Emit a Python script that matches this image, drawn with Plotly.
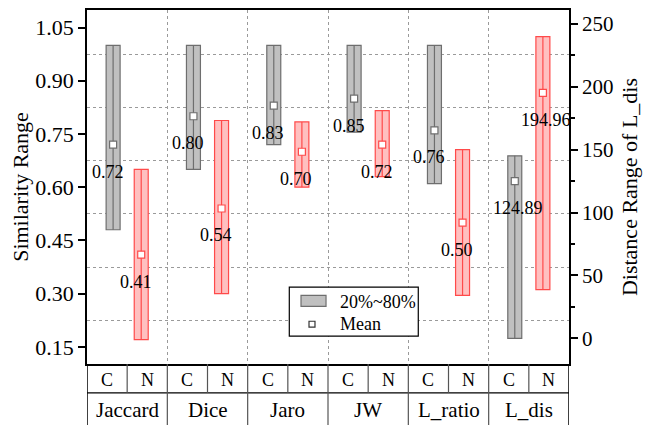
import plotly.graph_objects as go

# ---------------- data ----------------
groups = ["Jaccard", "Dice", "Jaro", "JW", "L_ratio", "L_dis"]
sub_labels = ["C", "N"]

# similarity measures (left axis), 20%~80% range and mean
sim_c_low = [0.48, 0.65, 0.72, 0.755, 0.61]
sim_c_high = [1.00, 1.00, 1.00, 1.00, 1.00]
sim_c_mean = [0.72, 0.80, 0.83, 0.85, 0.76]
sim_n_low = [0.17, 0.30, 0.60, 0.63, 0.295]
sim_n_high = [0.65, 0.788, 0.784, 0.816, 0.706]
sim_n_mean = [0.41, 0.54, 0.70, 0.72, 0.50]

# L_dis (right axis)
dis_c_low = [0.0]
dis_c_high = [145.0]
dis_c_mean = [124.89]
dis_n_low = [38.7]
dis_n_high = [239.7]
dis_n_mean = [194.96]

left_ticks = [0.15, 0.30, 0.45, 0.60, 0.75, 0.90, 1.05]
left_minor = [0.225, 0.375, 0.525, 0.675, 0.825, 0.975]
right_ticks = [0, 50, 100, 150, 200, 250]
right_minor = [25, 75, 125, 175, 225]
legend_labels = ["20%~80%", "Mean"]

# ---------------- style ----------------
FONT = "Liberation Serif, Times New Roman, serif"
GRAY_FILL = "#c0c0c0"
GRAY_LINE = "#6e6e6e"
RED_FILL = "#ffc0c0"
RED_LINE = "#ff4a4a"
GRID = "#9a9a9a"
OFF = 0.175
BW = 0.174

n_sim = len(sim_c_mean)
x_c_sim = [i - OFF for i in range(n_sim)]
x_n_sim = [i + OFF for i in range(n_sim)]
x_c_dis = [n_sim - OFF]
x_n_dis = [n_sim + OFF]

fig = go.Figure()


def add_bars(xs, lows, highs, fill, line, yaxis):
    fig.add_trace(go.Bar(
        x=xs, y=[h - l for h, l in zip(highs, lows)], base=lows,
        width=BW, yaxis=yaxis, showlegend=False,
        marker=dict(color=fill, line=dict(color=line, width=1.2)),
        hoverinfo="skip"))
    lx, ly = [], []
    for x, l, h in zip(xs, lows, highs):
        lx += [x, x, None]
        ly += [l, h, None]
    fig.add_trace(go.Scatter(x=lx, y=ly, mode="lines", yaxis=yaxis,
                             line=dict(color=line, width=1.2),
                             showlegend=False, hoverinfo="skip"))


def add_means(xs, means, line, yaxis):
    fig.add_trace(go.Scatter(
        x=xs, y=means, mode="markers", yaxis=yaxis, showlegend=False,
        marker=dict(symbol="square", size=7, color="white",
                    line=dict(color=line, width=1.2))))


add_bars(x_c_sim, sim_c_low, sim_c_high, GRAY_FILL, GRAY_LINE, "y")
add_bars(x_n_sim, sim_n_low, sim_n_high, RED_FILL, RED_LINE, "y")
add_bars(x_c_dis, dis_c_low, dis_c_high, GRAY_FILL, GRAY_LINE, "y2")
add_bars(x_n_dis, dis_n_low, dis_n_high, RED_FILL, RED_LINE, "y2")
add_means(x_c_sim, sim_c_mean, GRAY_LINE, "y")
add_means(x_n_sim, sim_n_mean, RED_LINE, "y")
add_means(x_c_dis, dis_c_mean, GRAY_LINE, "y2")
add_means(x_n_dis, dis_n_mean, RED_LINE, "y2")

annotations = []


def mean_labels(xs, means, yref):
    for x, m in zip(xs, means):
        annotations.append(dict(
            x=x, y=m, xref="x", yref=yref, text=f"{m:.2f}",
            showarrow=False, xanchor="left", yanchor="middle",
            xshift=-23.5, yshift=-27,
            font=dict(family=FONT, size=18, color="black")))


mean_labels(x_c_sim, sim_c_mean, "y")
mean_labels(x_n_sim, sim_n_mean, "y")
mean_labels(x_c_dis, dis_c_mean, "y2")
mean_labels(x_n_dis, dis_n_mean, "y2")

# table below the plot (the page body adds an 8px offset, figure sized to fit)
ROW1 = -0.0815
ROW_BOTTOM = -0.175
for i, g in enumerate(groups):
    for j, s in enumerate(sub_labels):
        annotations.append(dict(
            x=i - 0.25 + 0.5 * j, y=-0.0449, xref="x", yref="paper",
            text=s, showarrow=False, xanchor="center", yanchor="middle",
            borderpad=0,
            font=dict(family=FONT, size=18, color="black")))
    annotations.append(dict(
        x=i, y=-0.1292, xref="x", yref="paper", text=g, showarrow=False,
        xanchor="center", yanchor="middle", borderpad=0,
        font=dict(family=FONT, size=21, color="black")))

shapes = [
    dict(type="line", xref="x", yref="paper", x0=-0.5, x1=len(groups) - 0.5,
         y0=ROW1, y1=ROW1, line=dict(color="black", width=1.2)),
    dict(type="line", xref="x", yref="paper", x0=-0.5, x1=-0.5,
         y0=0, y1=ROW_BOTTOM, line=dict(color="black", width=1.5)),
    dict(type="line", xref="x", yref="paper", x0=len(groups) - 0.5,
         x1=len(groups) - 0.5, y0=0, y1=ROW_BOTTOM,
         line=dict(color="black", width=1.5)),
]
for i in range(len(groups)):
    shapes.append(dict(type="line", xref="x", yref="paper", x0=i, x1=i,
                       y0=0, y1=ROW1, line=dict(color="#555555", width=1.2)))
for i in range(len(groups) - 1):
    shapes.append(dict(type="line", xref="x", yref="paper", x0=i + 0.5,
                       x1=i + 0.5, y0=0, y1=ROW_BOTTOM,
                       line=dict(color="#555555", width=1.2)))

# custom legend box (paper coordinates)
LX0, LX1, LY0, LY1 = 0.4197, 0.6873, 0.0787, 0.2171
shapes.append(dict(type="rect", xref="paper", yref="paper", x0=LX0, x1=LX1,
                   y0=LY0, y1=LY1, fillcolor="white",
                   line=dict(color="black", width=1.2), layer="above"))
shapes.append(dict(type="rect", xref="paper", yref="paper", x0=0.4440,
                   x1=0.4959, y0=0.1629, y1=0.1938, fillcolor=GRAY_FILL,
                   line=dict(color=GRAY_LINE, width=1.2), layer="above"))
shapes.append(dict(type="rect", xref="paper", yref="paper", x0=0.4606,
                   x1=0.4730, y0=0.1040, y1=0.1208, fillcolor="white",
                   line=dict(color="#333333", width=1.2), layer="above"))
for txt, yy in zip(legend_labels, [0.1750, 0.1124]):
    annotations.append(dict(x=0.5234, y=yy, xref="paper", yref="paper",
                            text=txt, showarrow=False, xanchor="left",
                            yanchor="middle", borderpad=0,
                            font=dict(family=FONT, size=18, color="black")))

fig.update_layout(
    width=644, height=417,
    margin=dict(l=79, r=83, t=0, b=61),
    paper_bgcolor="white", plot_bgcolor="white",
    barmode="overlay",
    font=dict(family=FONT, size=20, color="black"),
    annotations=annotations, shapes=shapes,
    showlegend=False,
    xaxis=dict(range=[-0.5, len(groups) - 0.5], showticklabels=False,
               ticks="", showgrid=False, zeroline=False,
               showline=True, linecolor="black", linewidth=1.5, mirror=True,
               minor=dict(tickmode="array",
                          tickvals=[i + 0.5 for i in range(len(groups) - 1)],
                          showgrid=True, gridcolor=GRID, griddash="3px,3px",
                          gridwidth=1, ticks="")),
    yaxis=dict(range=[0.1015, 1.0996], tickmode="array", tickvals=left_ticks,
               ticktext=[f"{v:.2f}" for v in left_ticks],
               ticks="outside", ticklen=7, tickwidth=1.5, tickcolor="black",
               showline=True, linecolor="black", linewidth=1.5,
               showgrid=False, zeroline=False,
               tickfont=dict(family=FONT, size=22),
               title=dict(text="Similarity Range",
                          font=dict(family=FONT, size=22), standoff=4),
               minor=dict(tickmode="array", tickvals=left_minor,
                          showgrid=True, gridcolor=GRID, griddash="3px,3px",
                          gridwidth=1, ticks="")),
    yaxis2=dict(range=[-20.3, 260.8], overlaying="y", side="right",
                tickmode="array", tickvals=right_ticks,
                ticks="outside", ticklen=7, tickwidth=1.5, tickcolor="black",
                showline=True, linecolor="black", linewidth=1.5,
                showgrid=False, zeroline=False,
                tickfont=dict(family=FONT, size=21),
                title=dict(text="Distance Range of L_dis",
                           font=dict(family=FONT, size=22), standoff=9),
                minor=dict(tickmode="array", tickvals=right_minor,
                           ticks="outside", ticklen=4, tickcolor="black",
                           showgrid=False)),
)

fig.write_html("out.html")
